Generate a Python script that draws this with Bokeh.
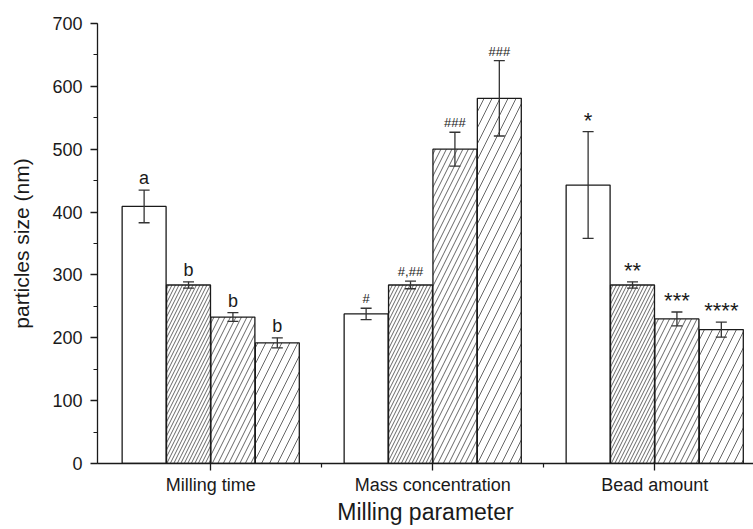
import numpy as np
from bokeh.plotting import figure
from bokeh.models import (Range1d, FixedTicker, Whisker, TeeHead, ColumnDataSource,
                          SingleIntervalTicker)
from bokeh.core.properties import value
from bokeh.embed import file_html
from bokeh.resources import INLINE

# ---------------- data ----------------
groups = ["Milling time", "Mass concentration", "Bead amount"]
group_pos = [1, 2, 3]

milling_time = [409, 284, 233, 192]
milling_time_err = [26, 5, 7, 8]
milling_time_labels = ["a", "b", "b", "b"]

mass_concentration = [238, 284, 500, 581]
mass_concentration_err = [9, 6, 27, 60]
mass_concentration_labels = ["#", "#,##", "###", "###"]

bead_amount = [443, 284, 230, 213]
bead_amount_err = [85, 5, 11, 12]
bead_amount_labels = ["*", "**", "***", "****"]

y_ticks_interval = 100

# ---------------- styling ----------------
FONT = "Liberation Sans"
bar_offsets = [-0.3, -0.1, 0.1, 0.3]
bar_width = 0.198
hatch_styles = [(" ", 12), ("/", 7), ("/", 11), ("/", 16)]
# (font size, y offset px; positive moves down) per group of labels
label_styles = [("18px", -2), ("13px", -2), ("22px", 1)]

p = figure(width=753, height=529, output_backend="svg", toolbar_location=None,
           x_range=Range1d(0.49, 0.49 + 656 / 222), y_range=Range1d(0, 700),
           min_border_left=97, min_border_right=0, min_border_top=23, min_border_bottom=66)
p.outline_line_color = None
p.xgrid.visible = False
p.ygrid.visible = False
p.background_fill_color = "white"
p.border_fill_color = "white"

values = [milling_time, mass_concentration, bead_amount]
errors = [milling_time_err, mass_concentration_err, bead_amount_err]
labels = [milling_time_labels, mass_concentration_labels, bead_amount_labels]

for i in range(4):
    xs = [g + bar_offsets[i] for g in group_pos]
    tops = [v[i] for v in values]
    pat, sc = hatch_styles[i]
    src = ColumnDataSource(dict(x=xs, top=tops))
    p.vbar(x="x", top="top", width=bar_width, source=src, fill_color="white",
           line_color="#1a1a1a", line_width=1.3,
           hatch_pattern=pat, hatch_scale=sc, hatch_color="#555555", hatch_weight=0.9)

# error bars
for i in range(4):
    xs = [g + bar_offsets[i] for g in group_pos]
    tops = [v[i] for v in values]
    errs = [e[i] for e in errors]
    src = ColumnDataSource(dict(x=xs, upper=[t + e for t, e in zip(tops, errs)],
                                lower=[t - e for t, e in zip(tops, errs)]))
    w = Whisker(source=src, base="x", upper="upper", lower="lower",
                line_color="#333333", line_width=1.3, level="overlay",
                upper_head=TeeHead(size=11, line_color="#333333", line_width=1.3),
                lower_head=TeeHead(size=11, line_color="#333333", line_width=1.3))
    p.add_layout(w)

# significance labels
for gi in range(3):
    xs = [group_pos[gi] + o for o in bar_offsets]
    ys = [values[gi][k] + errors[gi][k] for k in range(4)]
    src = ColumnDataSource(dict(x=xs, y=ys, t=labels[gi]))
    fs, off = label_styles[gi]
    p.text(x="x", y="y", text="t", source=src, text_align="center",
           text_baseline="bottom", y_offset=off, level="overlay",
           text_font=value(FONT), text_font_size=fs, text_color="#1a1a1a")

# axes
xa = p.xaxis[0]
xa.ticker = FixedTicker(ticks=group_pos, minor_ticks=[1.5, 2.5])
xa.major_label_overrides = {g: n for g, n in zip(group_pos, groups)}
xa.axis_label = "Milling parameter"
ya = p.yaxis[0]
ya.ticker = SingleIntervalTicker(interval=y_ticks_interval, num_minor_ticks=2)
ya.axis_label = "particles size (nm)"

for ax in (xa, ya):
    ax.axis_line_color = "#1a1a1a"
    ax.axis_line_width = 1.3
    ax.major_tick_line_color = "#1a1a1a"
    ax.minor_tick_line_color = "#1a1a1a"
    ax.major_tick_line_width = 1.3
    ax.minor_tick_line_width = 1.2
    ax.major_tick_in = 0
    ax.major_tick_out = 7
    ax.minor_tick_in = 0
    ax.minor_tick_out = 4
    ax.major_label_text_font = FONT
    ax.major_label_text_color = "#1a1a1a"
    ax.axis_label_text_font = FONT
    ax.axis_label_text_font_style = "normal"
    ax.axis_label_text_color = "#1a1a1a"

xa.major_label_text_font_size = "18px"
xa.major_label_standoff = 4
xa.axis_label_text_font_size = "23px"
xa.axis_label_standoff = 1
ya.major_label_text_font_size = "18px"
ya.major_label_standoff = 8
ya.axis_label_text_font_size = "21px"
ya.axis_label_standoff = 16

open("out.html", "w").write(file_html(p, INLINE))
